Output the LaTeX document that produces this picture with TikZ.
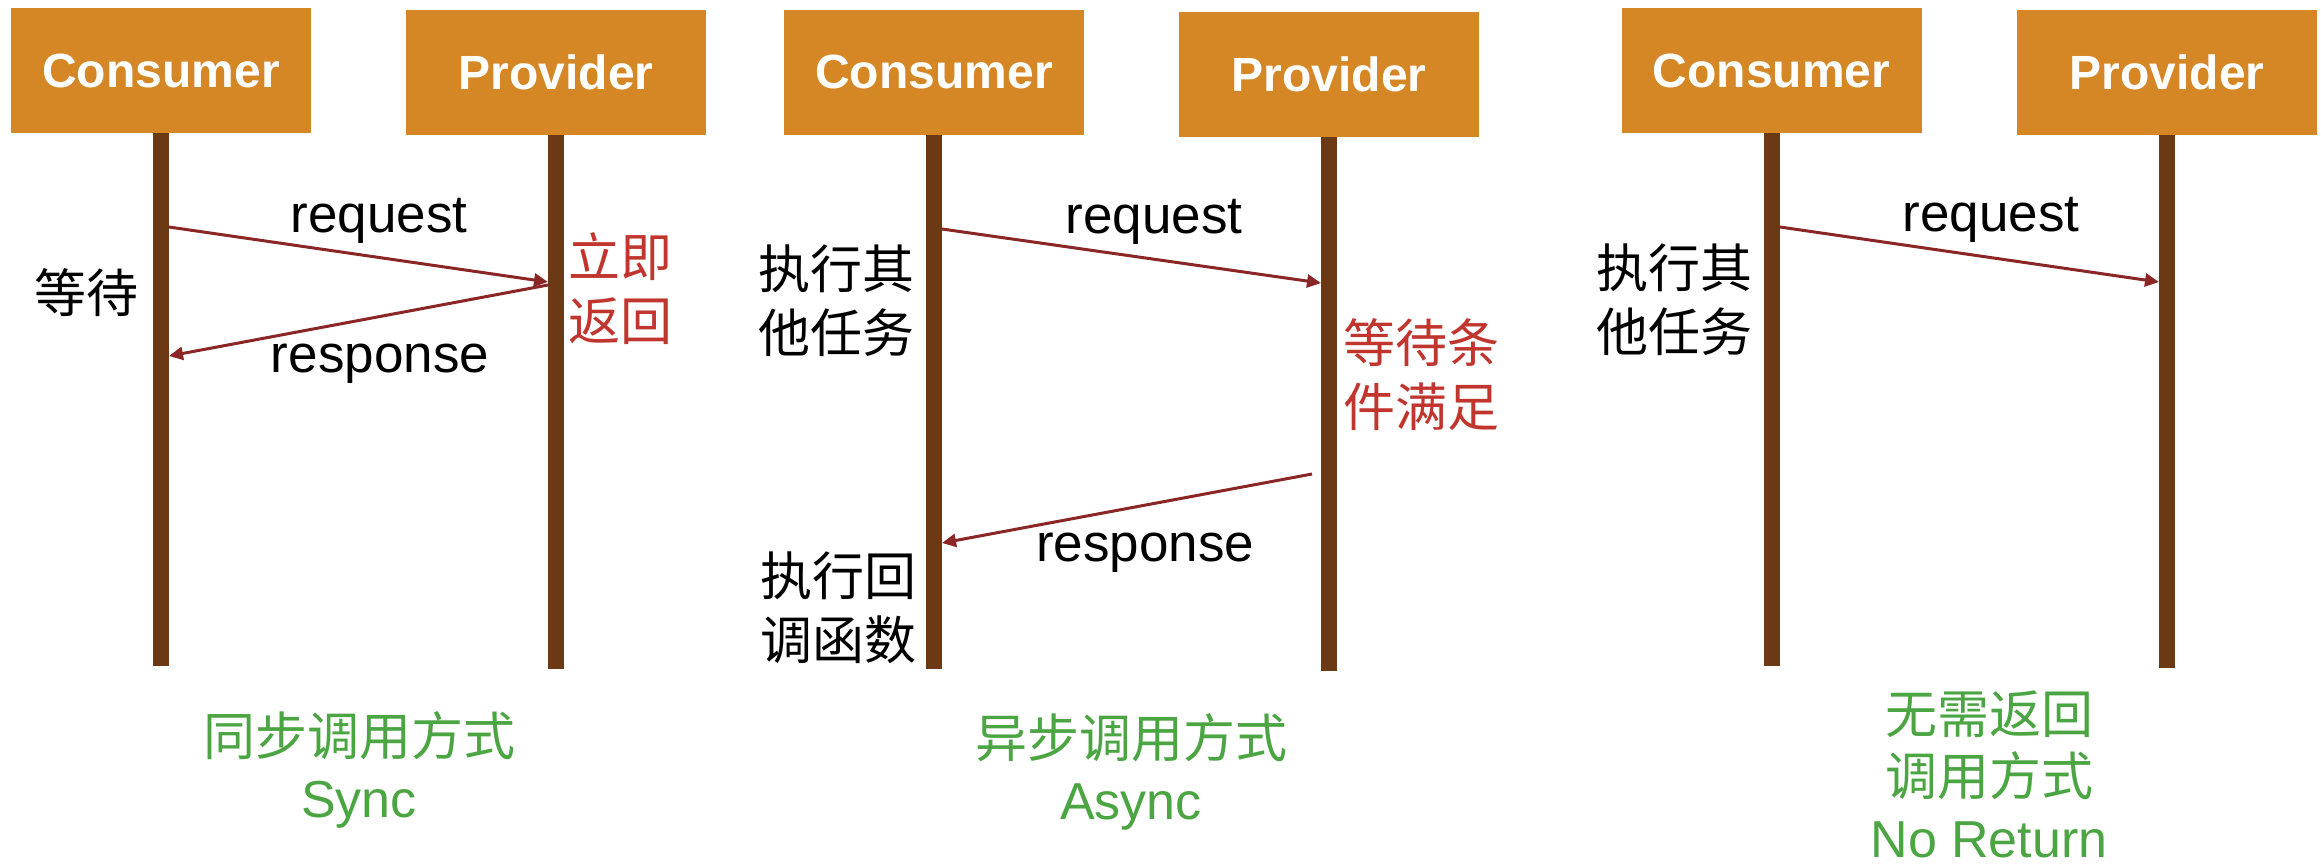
\documentclass[tikz,border=0pt]{standalone}
\usepackage{fontspec}
\setmainfont{Liberation Sans}
\newfontfamily\cjk{Noto Sans CJK SC}
\usetikzlibrary{arrows.meta}
\definecolor{partyfill}{HTML}{D68725}
\definecolor{lifebrown}{HTML}{6B3A15}
\definecolor{msgline}{HTML}{8B2626}
\definecolor{notered}{HTML}{C1352F}
\definecolor{titlegreen}{HTML}{4CA543}
\begin{document}
\begin{tikzpicture}[x=0.5pt,y=-0.5pt,
  party/.style={fill=partyfill,text=white,inner sep=0pt,minimum width=150pt,
    minimum height=62.5pt,font=\fontsize{24}{28}\selectfont\bfseries},
  lifeline/.style={draw=lifebrown,line width=8pt},
  msg/.style={draw=msgline,line width=1.5pt,-{Triangle[length=7pt,width=6.5pt]}},
  msglabel/.style={anchor=base,inner sep=0pt,font=\fontsize{26.5}{30}\selectfont},
  note/.style={inner sep=0pt,align=center,font=\fontsize{26}{32}\selectfont\cjk},
  rednote/.style={note,text=notered},
  caption/.style={inner sep=0pt,align=center,text=titlegreen,
    font=\fontsize{26}{31}\selectfont}]
\useasboundingbox (0,0) rectangle (2321,864);

% participants
\node[party] (c1) at (161,70.5)  {Consumer};
\node[party] (p1) at (556,72.5)  {Provider};
\node[party] (c2) at (934,72)    {Consumer};
\node[party] (p2) at (1329,74.5) {Provider};
\node[party] (c3) at (1771.5,70.5) {Consumer};
\node[party] (p3) at (2167,72.5) {Provider};

% lifelines
\coordinate (c1end) at (161,666);
\coordinate (p1end) at (556,669);
\coordinate (c2end) at (934,669);
\coordinate (p2end) at (1329,671);
\coordinate (c3end) at (1771.5,666);
\coordinate (p3end) at (2167,668);
\draw[lifeline] (c1.south) -- (c1end);
\draw[lifeline] (p1.south) -- (p1end);
\draw[lifeline] (c2.south) -- (c2end);
\draw[lifeline] (p2.south) -- (p2end);
\draw[lifeline] (c3.south) -- (c3end);
\draw[lifeline] (p3.south) -- (p3end);

% sync call
\coordinate (q1s) at (169,227);
\coordinate (q1e) at (548,282);
\coordinate (r1s) at (548,285);
\coordinate (r1e) at (169,356);
\draw[msg] (q1s) -- (q1e);
\draw[msg] (r1s) -- (r1e);
\node[msglabel] (rq1) at (379,232) {request};
\node[msglabel] (rs1) at (380,372) {response};
\node[note] (w1) at (86,293) {等待};
\node[rednote] (n1) at (620,289) {立即\\返回};
\node[caption] (t1) at (359,770) {{\cjk 同步调用方式}\\Sync};

% async call
\coordinate (q2s) at (942,229);
\coordinate (q2e) at (1321,283);
\coordinate (r2s) at (1312,474);
\coordinate (r2e) at (942,543);
\draw[msg] (q2s) -- (q2e);
\draw[msg] (r2s) -- (r2e);
\node[msglabel] (rq2) at (1154,233) {request};
\node[msglabel] (rs2) at (1145,561) {response};
\node[note] (o2) at (836,301) {执行其\\他任务};
\node[rednote] (n2) at (1421,374.5) {等待条\\件满足};
\node[note] (cb2) at (838,608) {执行回\\调函数};
\node[caption] (t2) at (1131,772) {{\cjk 异步调用方式}\\Async};

% one-way call
\coordinate (q3s) at (1780,227);
\coordinate (q3e) at (2159,282);
\draw[msg] (q3s) -- (q3e);
\node[msglabel] (rq3) at (1991,231) {request};
\node[note] (o3) at (1674,299.5) {执行其\\他任务};
\node[caption] (t3) at (1989,774) {{\cjk 无需返回}\\{\cjk 调用方式}\\No Return};
\end{tikzpicture}
\end{document}
